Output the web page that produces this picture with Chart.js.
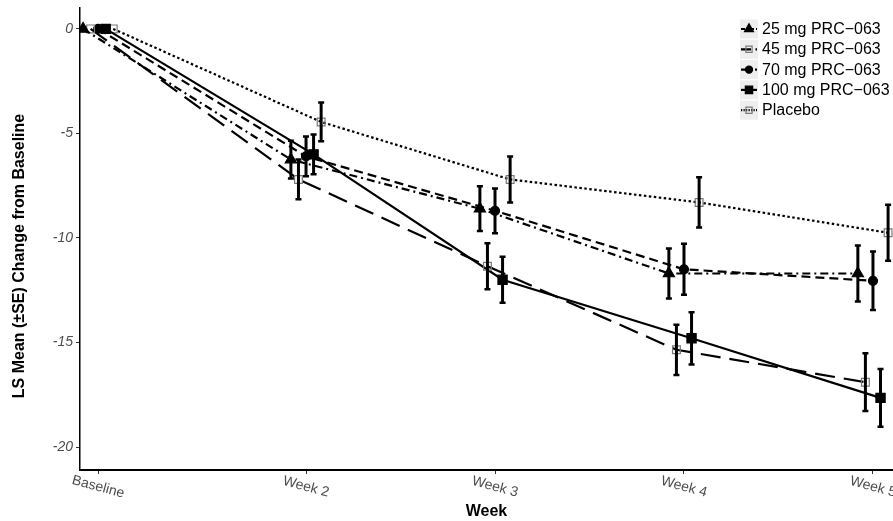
<!DOCTYPE html>
<html>
<head>
<meta charset="utf-8">
<title>LS Mean Change from Baseline</title>
<script src="https://cdn.jsdelivr.net/npm/chart.js@4.4.0/dist/chart.umd.min.js"></script>
<style>
  html, body { margin: 0; padding: 0; background: #fff; }
  #wrap { width: 893px; height: 521px; position: relative; }
</style>
</head>
<body>
<div id="wrap"><canvas id="lsChart"></canvas></div>
<script>
    "use strict";

    // Data
    const weeks = ['Baseline', 'Week 2', 'Week 3', 'Week 4', 'Week 5'];
    const weekPos = [0.9, 2, 3, 4, 5];
    const yTicks = [0, -5, -10, -15, -20];
    const groups = ['25 mg PRC\u2212063', '45 mg PRC\u2212063', '70 mg PRC\u2212063', '100 mg PRC\u2212063', 'Placebo'];

    const mean25 = [0, -6.25, -8.6, -11.7, -11.7];
    const se25 = [0, 0.9, 1.07, 1.2, 1.34];
    const mean45 = [0, -7.2, -11.35, -15.35, -16.9];
    const se45 = [0, 0.95, 1.1, 1.2, 1.38];
    const mean70 = [0, -6.1, -8.7, -11.5, -12.05];
    const se70 = [0, 0.95, 1.07, 1.22, 1.4];
    const mean100 = [0, -6.0, -12.0, -14.8, -17.65];
    const se100 = [0, 0.95, 1.1, 1.25, 1.38];
    const meanPbo = [0, -4.45, -7.2, -8.3, -9.75];
    const sePbo = [0, 0.93, 1.1, 1.2, 1.34];

    const FONT = '"Liberation Sans", Arial, sans-serif';
    const DODGE = 0.04;

    // Line / marker style per group
    const series = [
        { label: groups[0], mean: mean25, se: se25, dash: [8, 4, 2, 4], style: 'triangle', radius: 6.5, fill: '#000', stroke: '#000' },
        { label: groups[1], mean: mean45, se: se45, dash: [20, 9], style: 'rect', radius: 5.5, fill: 'rgba(0,0,0,0)', stroke: '#7a7a7a' },
        { label: groups[2], mean: mean70, se: se70, dash: [9, 5], style: 'circle', radius: 4.5, fill: '#000', stroke: '#000' },
        { label: groups[3], mean: mean100, se: se100, dash: [], style: 'rect', radius: 6.5, fill: '#000', stroke: '#000' },
        { label: groups[4], mean: meanPbo, se: sePbo, dash: [2.5, 2.5], style: 'rect', radius: 5.5, fill: 'rgba(0,0,0,0)', stroke: '#7a7a7a' }
    ];

    const datasets = series.map(function (s, j) {
        return {
            label: s.label,
            data: s.mean.map(function (v, i) { return { x: weekPos[i] + (j - 2) * DODGE, y: v }; }),
            borderColor: '#000',
            borderWidth: 2.2,
            borderDash: s.dash,
            pointStyle: s.style,
            pointRadius: s.radius,
            pointBackgroundColor: s.fill,
            pointBorderColor: s.stroke,
            pointBorderWidth: 1.2,
            tension: 0,
            fill: false
        };
    });

    // Error bars (mean +/- SE)
    const errorBars = {
        id: 'errorBars',
        afterDatasetsDraw: function (chart) {
            const ctx = chart.ctx;
            const yScale = chart.scales.y;
            ctx.save();
            ctx.strokeStyle = '#000';
            series.forEach(function (s, j) {
                const meta = chart.getDatasetMeta(j);
                meta.data.forEach(function (pt, i) {
                    if (!s.se[i]) return;
                    const top = yScale.getPixelForValue(s.mean[i] + s.se[i]);
                    const bot = yScale.getPixelForValue(s.mean[i] - s.se[i]);
                    ctx.lineWidth = 3;
                    ctx.beginPath();
                    ctx.moveTo(pt.x, top);
                    ctx.lineTo(pt.x, bot);
                    ctx.stroke();
                    ctx.lineWidth = 2.5;
                    ctx.beginPath();
                    ctx.moveTo(pt.x - 3, top);
                    ctx.lineTo(pt.x + 3, top);
                    ctx.moveTo(pt.x - 3, bot);
                    ctx.lineTo(pt.x + 3, bot);
                    ctx.stroke();
                });
            });
            ctx.restore();
        }
    };

    // Rotated x labels, y title and the legend box
    const decorations = {
        id: 'decorations',
        afterDraw: function (chart) {
            const ctx = chart.ctx;
            const xScale = chart.scales.x;
            ctx.save();

            ctx.fillStyle = '#4d4d4d';
            ctx.font = '14px ' + FONT;
            ctx.textAlign = 'center';
            ctx.textBaseline = 'middle';
            weeks.forEach(function (w, i) {
                ctx.save();
                ctx.translate(xScale.getPixelForValue(weekPos[i]), 487);
                ctx.rotate(15 * Math.PI / 180);
                ctx.fillText(w, 0, 0);
                ctx.restore();
            });

            ctx.save();
            ctx.fillStyle = '#000';
            ctx.font = 'bold 16px ' + FONT;
            ctx.translate(20, 256);
            ctx.rotate(-Math.PI / 2);
            ctx.fillText('LS Mean (\u00b1SE) Change from Baseline', 0, 0);
            ctx.restore();

            // legend
            const kx = 740, kw = 18, y0 = 29, rowH = 20.3;
            series.forEach(function (s, j) {
                const y = y0 + j * rowH;
                ctx.fillStyle = '#eeeeee';
                ctx.fillRect(kx, y - 9.5, kw, 19);
                ctx.strokeStyle = '#000';
                ctx.lineWidth = 2.2;
                ctx.setLineDash(s.dash.map(function (d) { return d * 0.5; }));
                ctx.beginPath();
                ctx.moveTo(kx + 1, y);
                ctx.lineTo(kx + kw - 1, y);
                ctx.stroke();
                ctx.setLineDash([]);
                ctx.fillStyle = s.fill;
                ctx.strokeStyle = s.stroke;
                ctx.lineWidth = 1.2;
                Chart.helpers.drawPoint(ctx, { pointStyle: s.style, radius: s.radius * 0.8, borderWidth: 1.2, rotation: 0 }, kx + kw / 2, y);
                ctx.fillStyle = '#000';
                ctx.font = '16px ' + FONT;
                ctx.textAlign = 'left';
                ctx.fillText(s.label, 762, y + 0.5);
            });
            ctx.restore();
        }
    };

    new Chart(document.getElementById('lsChart'), {
        type: 'line',
        data: { datasets: datasets },
        plugins: [errorBars, decorations],
        options: {
            responsive: true,
            maintainAspectRatio: false,
            animation: false,
            layout: { autoPadding: false, padding: { top: 8, right: 0, bottom: 0, left: 0 } },
            plugins: {
                legend: { display: false },
                tooltip: { enabled: false }
            },
            scales: {
                x: {
                    type: 'linear',
                    min: 0.804,
                    max: 5.106,
                    afterBuildTicks: function (s) { s.ticks = weekPos.map(function (v) { return { value: v }; }); },
                    afterFit: function (s) { s.height = 51; s.paddingLeft = 0; s.paddingRight = 0; },
                    border: { display: true, color: '#000', width: 2 },
                    grid: { drawOnChartArea: false, drawTicks: true, tickLength: 4, color: '#333' },
                    ticks: { color: 'rgba(0,0,0,0)', autoSkip: false, maxRotation: 0, font: { family: FONT, size: 14 } },
                    title: { display: true, text: 'Week', color: '#000', font: { family: FONT, size: 16, weight: 'bold' }, padding: 0 }
                },
                y: {
                    min: -21.1,
                    max: 1.0,
                    afterBuildTicks: function (s) { s.ticks = yTicks.map(function (v) { return { value: v }; }); },
                    afterFit: function (s) { s.width = 80; s.paddingTop = 0; s.paddingBottom = 0; },
                    border: { display: true, color: '#000', width: 1.5 },
                    grid: { drawOnChartArea: false, drawTicks: true, tickLength: 4, color: '#333' },
                    ticks: { color: '#4d4d4d', padding: 3, font: { family: FONT, size: 14, style: 'italic' } }
                }
            }
        }
    });
</script>
</body>
</html>
